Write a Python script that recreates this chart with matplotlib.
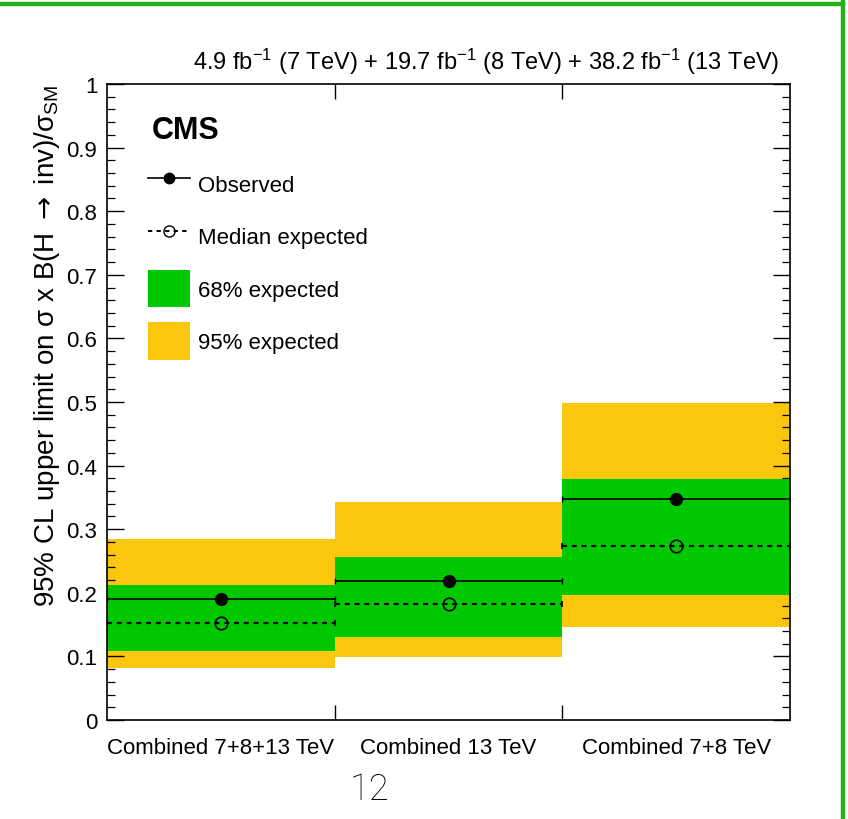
import matplotlib
matplotlib.use("Agg")
import matplotlib.pyplot as plt
import numpy as np
from matplotlib.lines import Line2D
from matplotlib.patches import Patch
from matplotlib.ticker import MultipleLocator, FuncFormatter

plt.rcParams['font.family'] = ['Liberation Sans', 'DejaVu Sans']
plt.rcParams['mathtext.fontset'] = 'custom'
plt.rcParams['mathtext.rm'] = 'Liberation Sans'
plt.rcParams['mathtext.it'] = 'Liberation Sans'
plt.rcParams['mathtext.bf'] = 'Liberation Sans:bold'
plt.rcParams['mathtext.sf'] = 'DejaVu Sans'

# data
categories = ["Combined 7+8+13 TeV", "Combined 13 TeV", "Combined 7+8 TeV"]
observed = [0.190, 0.219, 0.347]
expected = [0.152, 0.182, 0.274]
band68_lo = [0.108, 0.131, 0.197]
band68_hi = [0.212, 0.256, 0.379]
band95_lo = [0.081, 0.099, 0.146]
band95_hi = [0.285, 0.343, 0.498]

GREEN = '#00c800'
YELLOW = '#fbc60e'

fig = plt.figure(figsize=(8.48, 8.2), dpi=100)
ax = fig.add_axes([107 / 848, 1 - 721 / 820, 683 / 848, 636 / 820])

x = np.arange(len(categories)) + 0.5

# expected bands
ax.bar(x, np.subtract(band95_hi, band95_lo), bottom=band95_lo, width=1.0,
       color=YELLOW, linewidth=0, zorder=1)
ax.bar(x, np.subtract(band68_hi, band68_lo), bottom=band68_lo, width=1.0,
       color=GREEN, linewidth=0, zorder=2)

# median expected (dashed) and observed
eb = ax.errorbar(x, expected, xerr=0.5, fmt='o', color='k', mfc='none',
                 mec='k', mew=1.2, ms=9, capsize=2.5, elinewidth=1.6,
                 zorder=4)
eb[2][0].set_linestyle((0, (2.2, 2.2)))
ax.errorbar(x, observed, xerr=0.5, fmt='o', color='k', ms=8.5,
            capsize=2.5, elinewidth=1.2, zorder=5)

ax.set_xlim(0, len(categories))
ax.set_ylim(0, 1)

# axis ticks, ROOT style
ax.set_xticks(x, labels=categories)
ax.set_xticks(np.arange(1, len(categories)), minor=True)
ax.tick_params(axis='x', which='major', length=0, pad=12, labelsize=16)
ax.tick_params(axis='x', which='minor', length=11, width=1, direction='in',
               top=True, bottom=True)
ax.yaxis.set_major_locator(MultipleLocator(0.1))
ax.yaxis.set_minor_locator(MultipleLocator(0.02))
ax.yaxis.set_major_formatter(FuncFormatter(lambda v, p: '%g' % round(v, 2)))
ax.tick_params(axis='y', which='major', length=12, width=1, direction='in',
               left=True, right=True, labelsize=16, pad=7)
ax.tick_params(axis='y', which='minor', length=6, width=0.9, direction='in',
               left=True, right=True)
for s in ax.spines.values():
    s.set_linewidth(1.2)

ax.set_ylabel(r"95% CL upper limit on σ x B(H $\mathsf{\rightarrow}$ inv)/σ$_{\rm SM}$",
              fontsize=20, loc='top', labelpad=3)

ax.text(0.985, 1.013,
        r"4.9 fb$^{-1}$ (7 TeV) + 19.7 fb$^{-1}$ (8 TeV) + 38.2 fb$^{-1}$ (13 TeV)",
        transform=ax.transAxes, ha='right', va='bottom', fontsize=17)
ax.text(0.066, 0.927, "CMS", transform=ax.transAxes, ha='left',
        va='center', fontsize=22, fontweight='bold')

handles = [
    Line2D([], [], color='k', lw=1.2, marker='o', ms=7.5),
    Line2D([], [], color='k', lw=1.4, ls=(0, (2.2, 2.2)), marker='o',
           mfc='none', mec='k', ms=8),
    Patch(facecolor=GREEN, edgecolor='none'),
    Patch(facecolor=YELLOW, edgecolor='none'),
]
labels = ["Observed", "Median expected", "68% expected", "95% expected"]
ax.legend(handles, labels, loc='upper left', bbox_to_anchor=(0.060, 0.872),
          frameon=False, fontsize=16, handlelength=1.89, handleheight=2.2,
          labelspacing=0.68, handletextpad=0.36, borderpad=0,
          borderaxespad=0, numpoints=1)

# slide frame and page number
frame = '#22b31a'
fig.add_artist(Line2D([0, 843 / 848], [1 - 5 / 820, 1 - 5 / 820],
                      transform=fig.transFigure, color=frame, lw=3.2))
fig.add_artist(Line2D([843 / 848, 843 / 848], [1 - 3 / 820, 0],
                      transform=fig.transFigure, color=frame, lw=3.2))
fig.text(370 / 848, 1 - 790 / 820, "12", ha='center', va='center',
         fontsize=26, family=['Roboto', 'DejaVu Sans'], fontweight='light',
         color='k')

fig.savefig("out.png", dpi=100)
